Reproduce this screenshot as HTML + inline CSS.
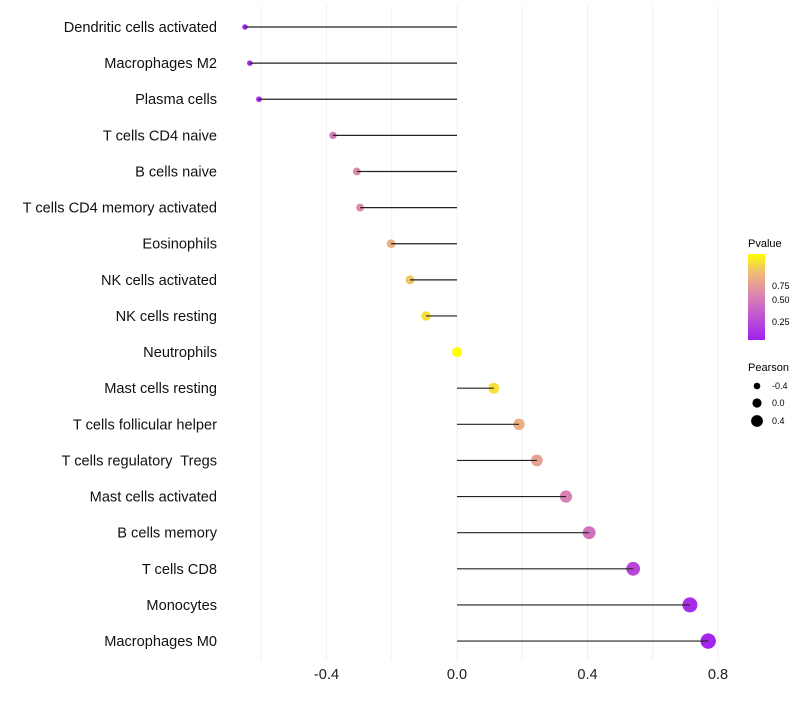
<!DOCTYPE html>
<html><head><meta charset="utf-8"><style>
body{margin:0;background:#fff;font-family:"Liberation Sans",sans-serif}
</style></head><body>
<svg id="chart" width="800" height="700" xmlns="http://www.w3.org/2000/svg" font-family="Liberation Sans, sans-serif">
<defs><linearGradient id="pg" x1="0" y1="1" x2="0" y2="0">
<stop offset="0" stop-color="#A020F0"/><stop offset="0.5" stop-color="#D980B5"/><stop offset="0.8" stop-color="#F0C070"/><stop offset="1" stop-color="#FFFF00"/></linearGradient></defs>
<g id="grid"></g>
<g id="marks"></g>
<g id="ylabels"></g>
<g id="xlabels"></g>
<g>
<text x="748" y="247" font-size="11">Pvalue</text>
<rect x="748" y="254" width="17" height="86" fill="url(#pg)"/>
<text x="772" y="289" font-size="9">0.75</text>
<text x="772" y="303" font-size="9">0.50</text>
<text x="772" y="325" font-size="9">0.25</text>
</g>
<g>
<text x="748" y="371" font-size="11">Pearson</text>
<circle cx="757" cy="386" r="3.3" fill="#000"/>
<circle cx="757" cy="403" r="4.6" fill="#000"/>
<circle cx="757" cy="421" r="5.9" fill="#000"/>
<text x="772" y="389" font-size="9">-0.4</text>
<text x="772" y="406" font-size="9">0.0</text>
<text x="772" y="424" font-size="9">0.4</text>
</g>
</svg>
<script>
const categories=["Dendritic cells activated","Macrophages M2","Plasma cells","T cells CD4 naive","B cells naive","T cells CD4 memory activated","Eosinophils","NK cells activated","NK cells resting","Neutrophils","Mast cells resting","T cells follicular helper","T cells regulatory  Tregs","Mast cells activated","B cells memory","T cells CD8","Monocytes","Macrophages M0"];
const pearson=[-0.65,-0.635,-0.607,-0.38,-0.307,-0.297,-0.202,-0.144,-0.095,0.0,0.113,0.19,0.245,0.334,0.405,0.54,0.714,0.77];
const pvalue=[0.03,0.04,0.06,0.45,0.55,0.56,0.72,0.82,0.9,1.0,0.9,0.72,0.66,0.5,0.42,0.2,0.06,0.03];
const xTicks=[-0.4,0.0,0.4,0.8];
const xTickLabels=["-0.4","0.0","0.4","0.8"];
const gridVals=[-0.6,-0.4,-0.2,0,0.2,0.4,0.6,0.8];
const NS="http://www.w3.org/2000/svg";
const xs=v=>457+v*326.25;
const ys=i=>27+i*36.12;
const rs=v=>5+3.5*v;
const stops=[[0,[160,32,240]],[0.5,[217,128,181]],[0.8,[240,192,112]],[1,[255,255,0]]];
function col(p){for(let k=1;k<stops.length;k++){if(p<=stops[k][0]){const a=stops[k-1],b=stops[k],t=(p-a[0])/(b[0]-a[0]);return "rgb("+a[1].map((c,j)=>Math.round(c+(b[1][j]-c)*t)).join(",")+")";}}return "rgb(255,255,0)";}
function mk(t,at,parent){const e=document.createElementNS(NS,t);for(const k in at)e.setAttribute(k,at[k]);parent.appendChild(e);return e;}
const g=document.getElementById('grid'),m=document.getElementById('marks'),yl=document.getElementById('ylabels'),xl=document.getElementById('xlabels');
gridVals.forEach(v=>{const l=mk('line',{x1:xs(v),x2:xs(v),y1:5,y2:660,stroke:'#f0f0f0','stroke-width':1},g);

});
categories.forEach((c,i)=>{
const y=ys(i);
const ci=mk('circle',{cx:xs(pearson[i]),cy:y,r:rs(pearson[i]),fill:col(pvalue[i])},m);


const ln=mk('line',{x1:xs(0),x2:xs(pearson[i]),y1:y,y2:y,stroke:'#222','stroke-width':1.2},m);


const t=mk('text',{x:217,y:y+5,'text-anchor':'end','font-size':14.6,fill:'#111','xml:space':'preserve',style:'white-space:pre'},yl);
t.textContent=c;


});
xTicks.forEach((v,i)=>{const t=mk('text',{x:xs(v),y:679,'text-anchor':'middle','font-size':14.6,fill:'#222'},xl);
t.textContent=xTickLabels[i];

});
</script>
</body></html>
